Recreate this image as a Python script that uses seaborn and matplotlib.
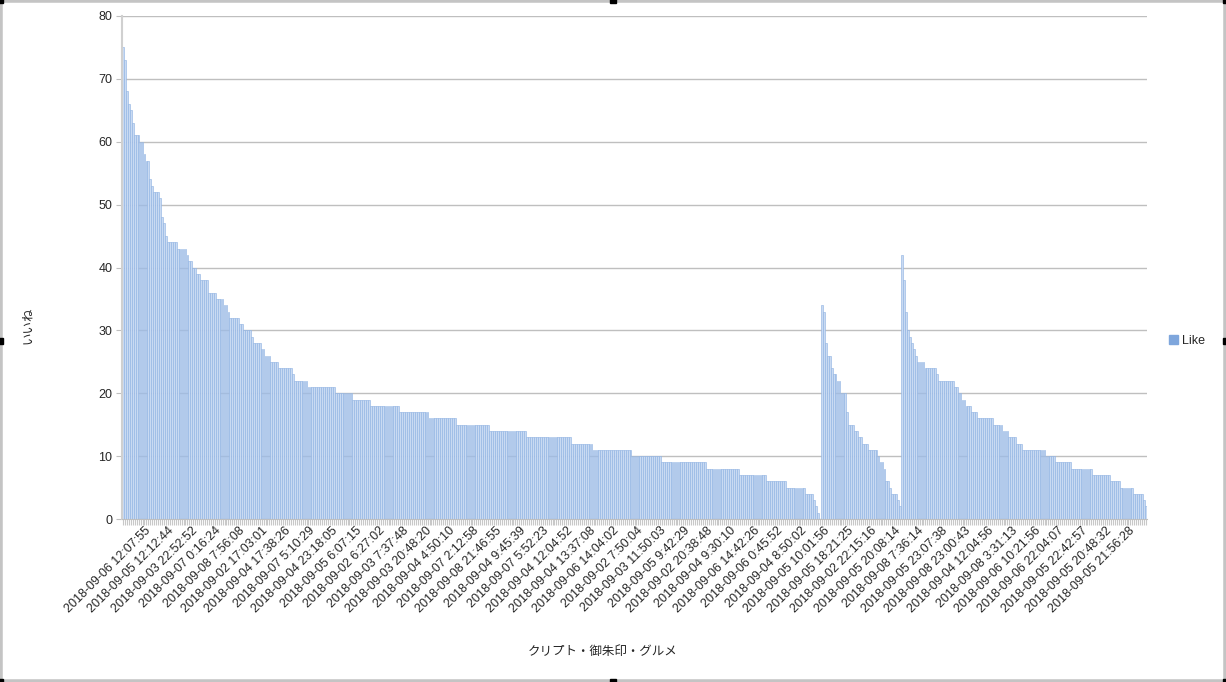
import numpy as np
import matplotlib
matplotlib.use("Agg")
import matplotlib.pyplot as plt
from matplotlib.patches import Patch, Rectangle
import seaborn as sns

# bar heights, as (value, number of bars in a row)
seg1_vals = [75, 73, 68, 66, 65, 63, 61, 60, 58, 57, 54, 53, 52, 51, 48, 47, 45, 44, 43, 42,
             41, 40, 39, 38, 36, 35, 34, 33, 32, 31, 30, 29, 28, 27, 26, 25, 24, 23, 22, 21,
             20, 19, 18, 17, 16, 15, 14, 13, 12, 11, 10, 9, 8, 7, 6, 5, 4, 3, 2, 1, 0]
seg1_cnts = [1, 1, 1, 1, 1, 1, 3, 2, 1, 2, 1, 1, 3, 1, 1, 1, 1, 5, 5, 1,
             2, 2, 2, 4, 4, 4, 2, 1, 5, 2, 4, 1, 4, 2, 3, 4, 7, 1, 7, 14,
             9, 9, 15, 15, 14, 17, 19, 23, 11, 20, 15, 23, 17, 14, 10, 10, 4, 1, 1, 1, 1]
seg2_vals = [34, 33, 28, 26, 24, 23, 22, 20, 17, 15, 14, 13, 12, 11, 10, 9, 8, 6, 5, 4, 3, 2]
seg2_cnts = [1, 1, 1, 2, 1, 2, 2, 3, 1, 3, 2, 2, 3, 5, 1, 2, 1, 2, 1, 3, 1, 1]
seg3_vals = [42, 38, 33, 30, 29, 28, 27, 26, 25, 24, 23, 22, 21, 20, 19, 18, 17, 16, 15, 14,
             13, 12, 11, 10, 9, 8, 7, 6, 5, 4, 3, 2]
seg3_cnts = [1, 1, 1, 1, 1, 1, 1, 1, 4, 6, 1, 8, 2, 2, 2, 3, 3, 8, 5, 3,
             4, 3, 12, 5, 8, 11, 9, 5, 7, 5, 1, 1]

likes = np.concatenate([np.repeat(seg1_vals, seg1_cnts),
                        np.repeat(seg2_vals, seg2_cnts),
                        np.repeat(seg3_vals, seg3_cnts)])
n = len(likes)

tick_labels = [
    "2018-09-06 12:07:55", "2018-09-05 12:12:44", "2018-09-03 22:52:52", "2018-09-07 0:16:24",
    "2018-09-08 7:56:08", "2018-09-02 17:03:01", "2018-09-04 17:38:26", "2018-09-07 5:10:29",
    "2018-09-04 23:18:05", "2018-09-05 6:07:15", "2018-09-02 6:27:02", "2018-09-03 7:37:48",
    "2018-09-03 20:48:20", "2018-09-04 4:50:10", "2018-09-07 2:12:58", "2018-09-08 21:46:55",
    "2018-09-04 9:45:39", "2018-09-07 5:52:23", "2018-09-04 12:04:52", "2018-09-04 13:37:08",
    "2018-09-06 14:04:02", "2018-09-02 7:50:04", "2018-09-03 11:50:03", "2018-09-05 9:42:29",
    "2018-09-02 20:38:48", "2018-09-04 9:30:10", "2018-09-06 14:42:26", "2018-09-06 0:45:52",
    "2018-09-04 8:50:02", "2018-09-05 10:01:56", "2018-09-05 18:21:25", "2018-09-02 22:15:16",
    "2018-09-05 20:08:14", "2018-09-08 7:36:14", "2018-09-05 23:07:38", "2018-09-08 23:00:43",
    "2018-09-04 12:04:56", "2018-09-08 3:31:13", "2018-09-06 10:21:56", "2018-09-06 22:04:07",
    "2018-09-05 22:42:57", "2018-09-05 20:48:32", "2018-09-05 21:56:28",
]
label_step = 12
label_start = 11

sns.set_style("white")
plt.rcParams['font.family'] = ['Liberation Sans', 'Noto Sans CJK JP']

fig = plt.figure(figsize=(12.26, 6.82), dpi=100)
ax = fig.add_axes([122 / 1226, 1 - 519 / 682, (1147 - 122) / 1226, (519 - 16) / 682])

sns.barplot(x=np.arange(n), y=likes, color='#c9daf2', saturation=1, width=0.9,
            edgecolor='#8cb0e2', linewidth=0.4, ax=ax)

ax.set_xlim(-0.5, n - 0.5)
ax.set_ylim(0, 80)
ax.set_yticks(range(0, 81, 10))
ax.yaxis.grid(True, color='#bfbfbf', linewidth=1)
ax.set_axisbelow(True)
for s in ['top', 'right']:
    ax.spines[s].set_visible(False)
ax.spines['left'].set_color('#d0d0d0')
ax.spines['left'].set_linewidth(1.5)
ax.spines['bottom'].set_color('#bfbfbf')

pos = [label_start + label_step * i for i in range(len(tick_labels))]
ax.set_xticks(pos)
ax.set_xticklabels(tick_labels, rotation=45, ha='right', rotation_mode='anchor', fontsize=9)
ax.set_xticks(np.arange(n), minor=True)
ax.tick_params(axis='x', which='both', length=4, color='#c8c8c8', width=0.8, bottom=True, pad=0)
ax.tick_params(axis='y', length=4, color='#bfbfbf', left=True, labelsize=9, pad=3)
ax.set_xlabel('')
ax.set_ylabel('')

fig.text(28 / 1226, 1 - 325 / 682, 'いいね', rotation=90, ha='center', va='center', fontsize=9)
fig.text(603 / 1226, 1 - 652 / 682, 'クリプト・御朱印・グルメ', ha='center', va='center', fontsize=9)

fig.legend(handles=[Patch(color='#7ea6dc', label='Like')], loc='center left',
           bbox_to_anchor=(1158 / 1226, 1 - 341 / 682), frameon=False, fontsize=9,
           handlelength=0.7, handleheight=0.7, handletextpad=0.3)

# chart frame with selection handles
fig.patches.append(Rectangle((0, 0), 1, 1, transform=fig.transFigure, fill=False,
                             edgecolor='#c4c4c4', linewidth=4))
for hx, hy in [(0, 0), (0.5, 0), (1, 0), (0, 0.5), (1, 0.5), (0, 1), (0.5, 1), (1, 1)]:
    fig.patches.append(Rectangle((hx - 3 / 1226, hy - 3 / 682), 6 / 1226, 6 / 682,
                                 transform=fig.transFigure, color='black'))

plt.savefig('out.png', dpi=100)
